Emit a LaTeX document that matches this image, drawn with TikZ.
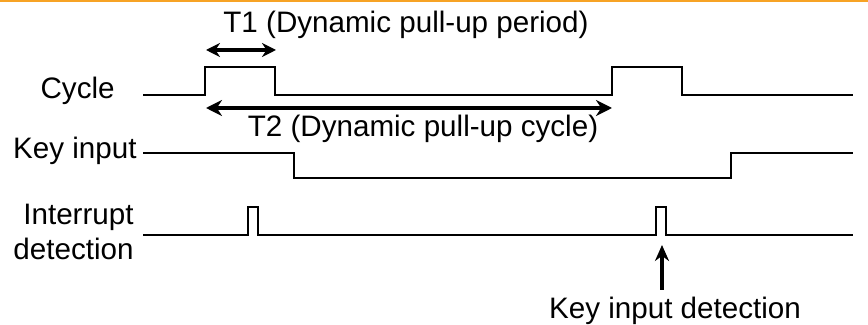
\documentclass[tikz,border=0pt]{standalone}
\usepackage{fontspec}
\setmainfont{Liberation Sans}
\usepackage{tikz}
\usetikzlibrary{arrows.meta}
\definecolor{barorange}{RGB}{247,163,37}

\begin{document}
\begin{tikzpicture}[x=0.5pt,y=-0.5pt,font=\fontsize{14.8}{17.5}\selectfont]
\useasboundingbox (0,0) rectangle (868,325);
\fill[color=barorange] (0,0) rectangle (868,2.5);
\node[anchor=base east,inner sep=0] (cycle) at (115,99) {Cycle};
\node[anchor=base east,inner sep=0] (key) at (137,159) {Key input};
\node[anchor=base east,inner sep=0,align=right] (irq) at (134,260) {Interrupt\\detection};
\node[anchor=base,inner sep=0] (t1) at (406,33) {T1 (Dynamic pull-up period)};
\node[anchor=base,inner sep=0] (t2) at (423,137) {T2 (Dynamic pull-up cycle)};
\node[anchor=base,inner sep=0] (detect) at (675,319) {Key input detection};
\coordinate (t1a) at (206,50);
\coordinate (t1b) at (276,50);
\coordinate (t2a) at (206,108);
\coordinate (t2b) at (612,108);
\coordinate (upfoot) at (662,290);
\coordinate (up) at (662,245);
\draw[line width=1pt] (143,95) -- (205,95) |- (275,67) |- (612,95) |- (682,67) |- (853,95);
\draw[line width=1pt] (143,153) -- (294,153) |- (731,178) |- (853,153);
\draw[line width=1pt] (143,235) -- (248,235) |- (258,207) |- (656,235) |- (666,207) |- (853,235);
\draw[line width=2pt,{Stealth[length=7pt,width=7pt]}-{Stealth[length=7pt,width=7pt]}] (t1a) -- (t1b);
\draw[line width=2.2pt,{Stealth[length=8pt,width=8pt]}-{Stealth[length=8pt,width=8pt]}] (t2a) -- (t2b);
\draw[line width=2pt,-{Stealth[length=8pt,width=7pt]}] (upfoot) -- (up);
\end{tikzpicture}
\end{document}
